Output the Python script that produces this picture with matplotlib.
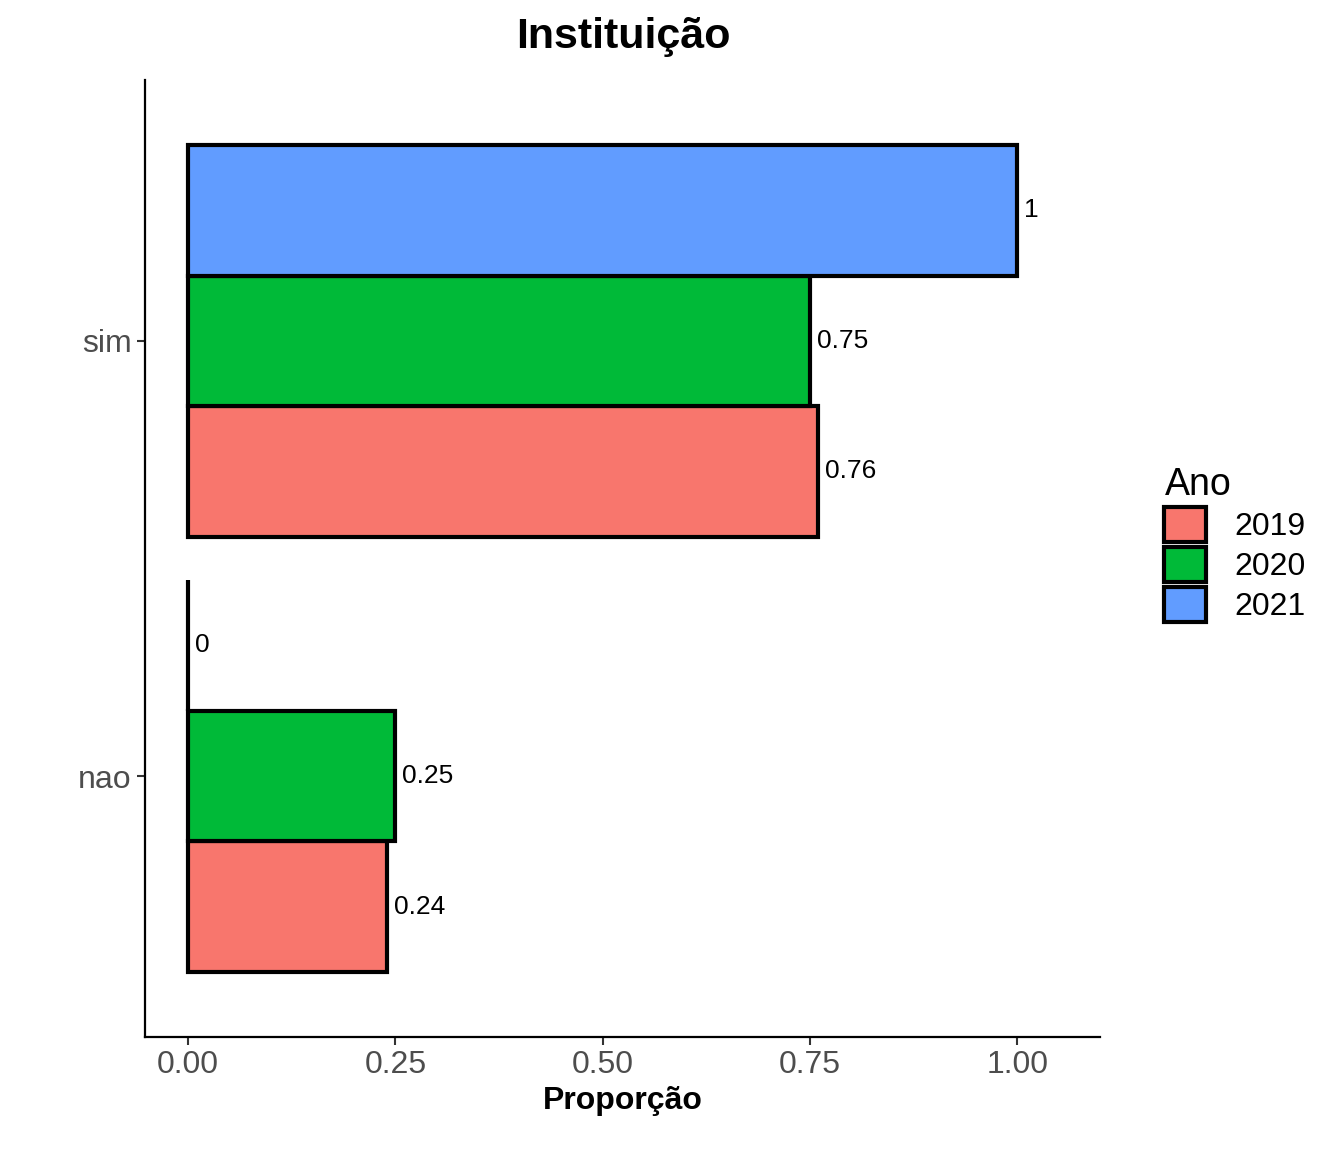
import numpy as np
import matplotlib.pyplot as plt
from matplotlib.patches import Patch

plt.rcParams['font.family'] = ['Liberation Sans', 'DejaVu Sans']

# dados
categorias = ["nao", "sim"]
anos = ["2019", "2020", "2021"]
valores = {
    "2019": [0.24, 0.76],
    "2020": [0.25, 0.75],
    "2021": [0.0, 1.0],
}
rotulos = {
    "2019": ["0.24", "0.76"],
    "2020": ["0.25", "0.75"],
    "2021": ["0", "1"],
}
cores = ["#F8766D", "#00BA38", "#619CFF"]

fig = plt.figure(figsize=(13.44, 11.52), dpi=100)
ax = fig.add_axes([0.1079, 0.0998, 0.7106, 0.8308])

y = np.arange(len(categorias))
h = 0.3
for i, ano in enumerate(anos):
    pos = y + (i - 1) * h
    ax.barh(pos, valores[ano], height=h, color=cores[i], edgecolor="black", linewidth=3)
    for p, v, t in zip(pos, valores[ano], rotulos[ano]):
        ax.text(v + 0.008, p, t, ha="left", va="center", fontsize=19)

ax.set_xlim(-0.052, 1.1)
ax.set_ylim(-0.6, 1.6)
ax.set_yticks(y)
ax.set_yticklabels(categorias)
ax.set_xticks([0, 0.25, 0.5, 0.75, 1.0])
ax.set_xticklabels(["0.00", "0.25", "0.50", "0.75", "1.00"])
ax.tick_params(labelsize=23, labelcolor="#4D4D4D", color="#333333", length=6, width=1.5)
for s in ["top", "right"]:
    ax.spines[s].set_visible(False)
for s in ["left", "bottom"]:
    ax.spines[s].set_linewidth(1.6)

ax.set_xlabel("Proporção", fontsize=23, fontweight="bold", labelpad=4)
fig.text(0.4638, 0.968, "Instituição", ha="center", va="center", fontsize=31, fontweight="bold")

handles = [Patch(facecolor=c, edgecolor="black", linewidth=3, label=a) for a, c in zip(anos, cores)]
leg = fig.legend(handles=handles, title="Ano", loc="upper left", bbox_to_anchor=(0.845, 0.62),
                 frameon=False, fontsize=23, title_fontsize=27, handlelength=1.3, handleheight=1.3,
                 handletextpad=0.9, labelspacing=0.15)
leg._legend_box.align = "left"

fig.savefig("out.png", dpi=100)
